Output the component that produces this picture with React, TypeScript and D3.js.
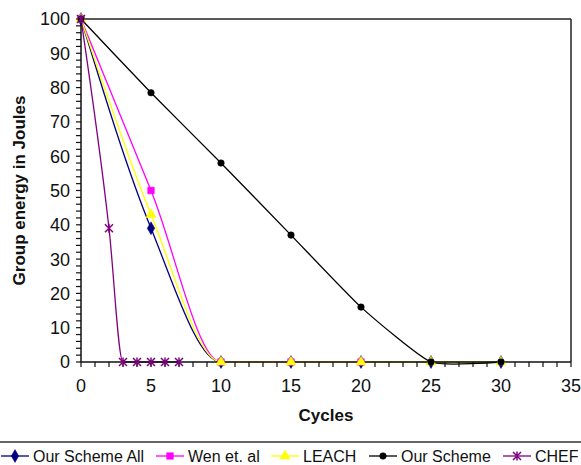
import React from "react";
import * as d3 from "d3";

// ---- data ----
const ourSchemeAllX = [0, 5, 10, 15, 20, 25, 30];
const ourSchemeAllY = [100, 39, 0, 0, 0, 0, 0];
const wenX = [0, 5, 10, 15, 20];
const wenY = [100, 50, 0, 0, 0];
const leachX = [0, 5, 10, 15, 20, 25, 30];
const leachY = [100, 43, 0, 0, 0, 0, 0];
const ourSchemeX = [0, 5, 10, 15, 20, 25, 30];
const ourSchemeY = [100, 78.5, 58, 37, 16, 0, 0];
const chefX = [0, 2, 3, 4, 5, 6, 7];
const chefY = [100, 39, 0, 0, 0, 0, 0];

const seriesNames = ["Our Scheme All", "Wen et. al", "LEACH", "Our Scheme", "CHEF"];
const xTicks = [0, 5, 10, 15, 20, 25, 30, 35];
const yTicks = [0, 10, 20, 30, 40, 50, 60, 70, 80, 90, 100];

// ---- layout ----
const W = 581, H = 465;
const L = 81, R = 571, T = 19, B = 362;
const FONT = "'Liberation Sans', Arial, sans-serif";

const x = d3.scaleLinear().domain([0, 35]).range([L, R]);
const y = d3.scaleLinear().domain([0, 100]).range([B, T]);

type Marker = "diamond" | "square" | "triangle" | "circle" | "star";
const series = [
  { name: seriesNames[0], xs: ourSchemeAllX, ys: ourSchemeAllY, color: "#000080", marker: "diamond" as Marker, curve: d3.curveMonotoneX },
  { name: seriesNames[1], xs: wenX, ys: wenY, color: "#FF00FF", marker: "square" as Marker, curve: d3.curveMonotoneX },
  { name: seriesNames[2], xs: leachX, ys: leachY, color: "#FFFF00", marker: "triangle" as Marker, curve: d3.curveMonotoneX },
  { name: seriesNames[3], xs: ourSchemeX, ys: ourSchemeY, color: "#000000", marker: "circle" as Marker, curve: d3.curveCardinal.tension(0.5) },
  { name: seriesNames[4], xs: chefX, ys: chefY, color: "#800080", marker: "star" as Marker, curve: d3.curveMonotoneX },
];

const legendCx = [15, 170, 285, 383, 517];

function MarkerShape({ kind, color, cx, cy }: { kind: Marker; color: string; cx: number; cy: number }) {
  const t = `translate(${cx},${cy})`;
  if (kind === "star") {
    return (
      <path transform={t} d="M-4,-4L4,4M-4,4L4,-4M0,-4.5L0,4.5" stroke={color} strokeWidth={1.5} fill="none" />
    );
  }
  const sym =
    kind === "diamond" ? d3.symbolDiamond :
    kind === "square" ? d3.symbolSquare :
    kind === "triangle" ? d3.symbolTriangle : d3.symbolCircle;
  const size = kind === "circle" ? 34 : kind === "diamond" ? 48 : 44;
  const p = d3.symbol().type(sym).size(size)()!;
  return <path transform={t} d={p} fill={color} stroke={color} strokeWidth={0.5} />;
}

export default function App() {
  const yMinor = d3.range(0, 101, 2);
  const xMinor = d3.range(0, 36, 1);

  return (
    <svg width={W} height={H} style={{ position: "absolute", left: 0, top: 0, background: "#fff" }} fontFamily={FONT}>
      <rect x={0} y={0} width={W} height={H} fill="#fff" />
      {/* plot frame top & right */}
      <line x1={L} y1={T} x2={R} y2={T} stroke="#222" strokeWidth={1.5} />
      <line x1={R} y1={T} x2={R} y2={B} stroke="#222" strokeWidth={1.5} />

      {/* series lines */}
      {series.map((s) => {
        const line = d3
          .line<[number, number]>()
          .x((d) => x(d[0]))
          .y((d) => y(d[1]))
          .curve(s.curve);
        return (
          <path
            key={s.name}
            d={line(s.xs.map((v, i) => [v, s.ys[i]] as [number, number]))!}
            fill="none"
            stroke={s.color}
            strokeWidth={1.3}
          />
        );
      })}

      {/* axes */}
      <line x1={L} y1={T} x2={L} y2={B} stroke="#111" strokeWidth={1.5} />
      <line x1={L} y1={B} x2={R} y2={B} stroke="#111" strokeWidth={1.5} />
      {yMinor.map((v) => (
        <line key={"ym" + v} x1={L - 5} x2={L} y1={y(v)} y2={y(v)} stroke="#111" strokeWidth={1.2} />
      ))}
      {xMinor.map((v) => (
        <line key={"xm" + v} x1={x(v)} x2={x(v)} y1={B} y2={B + 5} stroke="#111" strokeWidth={1.2} />
      ))}
      {yTicks.map((v) => (
        <text key={"yt" + v} x={L - 11} y={y(v)} dy="0.36em" textAnchor="end" fontSize={18} fill="#111">
          {v}
        </text>
      ))}
      {xTicks.map((v) => (
        <text key={"xt" + v} x={x(v)} y={392} textAnchor="middle" fontSize={18} fill="#111">
          {v}
        </text>
      ))}

      {/* markers */}
      {series.map((s) =>
        s.xs.map((v, i) => (
          <MarkerShape key={s.name + i} kind={s.marker} color={s.color} cx={x(v)} cy={y(s.ys[i])} />
        ))
      )}

      {/* titles */}
      <text x={(L + R) / 2} y={421} textAnchor="middle" fontSize={17} fontWeight="bold" fill="#111">
        Cycles
      </text>
      <text
        transform={`translate(25,${(T + B) / 2}) rotate(-90)`}
        textAnchor="middle"
        fontSize={17}
        fontWeight="bold"
        fill="#111"
      >
        Group energy in Joules
      </text>

      {/* legend */}
      <line x1={0} y1={442} x2={W} y2={442} stroke="#333" strokeWidth={1.5} />
      {series.map((s, i) => (
        <g key={"lg" + s.name}>
          <line x1={legendCx[i] - 14} x2={legendCx[i] + 14} y1={456} y2={456} stroke={s.color} strokeWidth={1.3} />
          <MarkerShape kind={s.marker} color={s.color} cx={legendCx[i]} cy={456} />
          <text x={legendCx[i] + 18} y={462} fontSize={16} fill="#111">
            {s.name}
          </text>
        </g>
      ))}
    </svg>
  );
}
